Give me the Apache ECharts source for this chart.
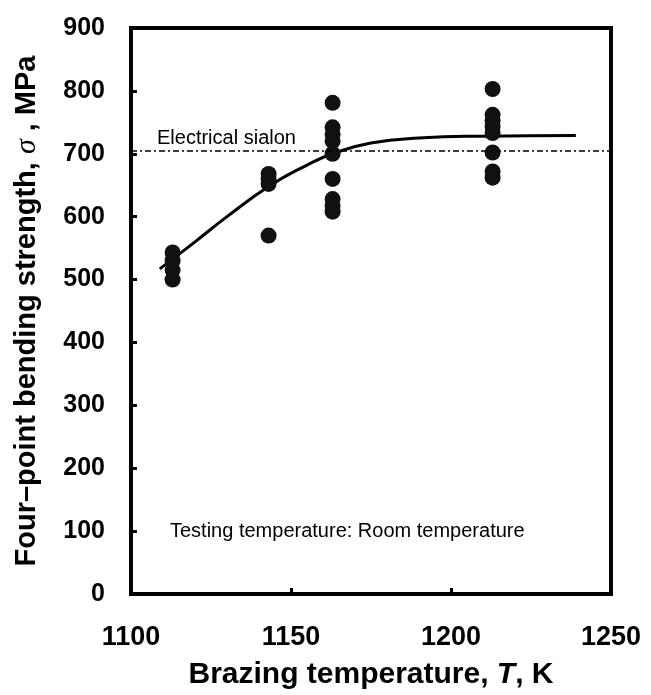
<!DOCTYPE html>
<html>
<head>
<meta charset="utf-8">
<script src="https://cdn.jsdelivr.net/npm/echarts@6/dist/echarts.min.js"></script>
<style>
  html, body { margin: 0; padding: 0; background: #fff; }
  #chart { width: 651px; height: 695px; }
</style>
</head>
<body>
<div id="chart"></div>
<script>
// brazing temperature (K) and measured strength (MPa) per specimen
const tempK = [1113, 1113, 1113, 1113,
  1143, 1143, 1143, 1143,
  1163, 1163, 1163, 1163, 1163, 1163, 1163, 1163, 1163,
  1213, 1213, 1213, 1213, 1213, 1213, 1213, 1213]
const strength = [543, 530, 515, 500,
  668, 660, 652, 570,
  781, 742, 731, 720, 700, 660, 628, 617, 608,
  803, 762, 753, 743, 733, 702, 672, 662]

// fitted trend curve
const fitT = [1109, 1120, 1130, 1143, 1155, 1163, 1175, 1190, 1210, 1239]
const fitS = [517, 560, 600, 648, 682, 700, 717, 725, 728, 729]

const sialonLevel = 705
const xTicks = [1100, 1150, 1200, 1250]
const yTicks = [0, 100, 200, 300, 400, 500, 600, 700, 800, 900]

const chart = echarts.init(document.getElementById('chart'), null, { renderer: 'canvas' })

const font = 'Liberation Sans, Arial, sans-serif'

chart.setOption({
  animation: false,
  grid: {
    left: 131, right: 40, top: 28, bottom: 100,
    show: true, borderColor: '#000', borderWidth: 4
  },
  xAxis: {
    type: 'value',
    min: xTicks[0], max: xTicks[xTicks.length - 1], interval: 50,
    name: '{b|Brazing temperature, }{i|T}{b|, K}',
    nameLocation: 'middle', nameGap: 66,
    nameTextStyle: {
      rich: {
        b: { fontFamily: font, fontWeight: 'bold', fontSize: 30, color: '#000' },
        i: { fontFamily: font, fontWeight: 'bold', fontStyle: 'italic', fontSize: 30, color: '#000' }
      }
    },
    axisLine: { show: false },
    axisTick: { show: true, inside: true, length: 6, lineStyle: { color: '#000', width: 3 } },
    splitLine: { show: false },
    axisLabel: {
      margin: 30, color: '#000', fontFamily: font, fontWeight: 'bold', fontSize: 27,
      formatter: v => String(v)
    }
  },
  yAxis: {
    type: 'value',
    min: yTicks[0], max: yTicks[yTicks.length - 1], interval: 100,
    name: '{a|Four\u2013point bending strength, }{s|\u03c3}{a| , MPa}',
    nameLocation: 'middle', nameGap: 89,
    nameTextStyle: {
      rich: {
        a: { fontFamily: font, fontWeight: 'bold', fontSize: 29, color: '#000' },
        s: { fontFamily: 'Liberation Serif, serif', fontStyle: 'italic', fontSize: 30, color: '#000' }
      }
    },
    axisLine: { show: false },
    axisTick: { show: true, inside: true, length: 6, lineStyle: { color: '#000', width: 3 } },
    splitLine: { show: false },
    axisLabel: {
      margin: 26, color: '#000', fontFamily: font, fontWeight: 'bold', fontSize: 25,
      formatter: v => String(v)
    }
  },
  series: [
    {
      type: 'line',
      data: fitT.map((t, i) => [t, fitS[i]]),
      smooth: true,
      symbol: 'none',
      lineStyle: { color: '#000', width: 3 },
      markLine: {
        silent: true,
        symbol: 'none',
        label: { show: false },
        lineStyle: { color: '#000', width: 1.5, type: [6, 3, 2, 3] },
        data: [{ yAxis: sialonLevel }]
      },
      z: 3
    },
    {
      type: 'scatter',
      data: tempK.map((t, i) => [t, strength[i]]),
      symbol: 'circle',
      symbolSize: 16,
      itemStyle: { color: '#111', opacity: 1 },
      z: 4
    }
  ],
  graphic: [
    {
      type: 'text', left: 157, top: 128,
      style: { text: 'Electrical sialon', fontFamily: font, fontSize: 20, fill: '#000' }
    },
    {
      type: 'text', left: 170, top: 521,
      style: { text: 'Testing temperature: Room temperature', fontFamily: font, fontSize: 20, fill: '#000' }
    }
  ]
})
</script>
</body>
</html>
